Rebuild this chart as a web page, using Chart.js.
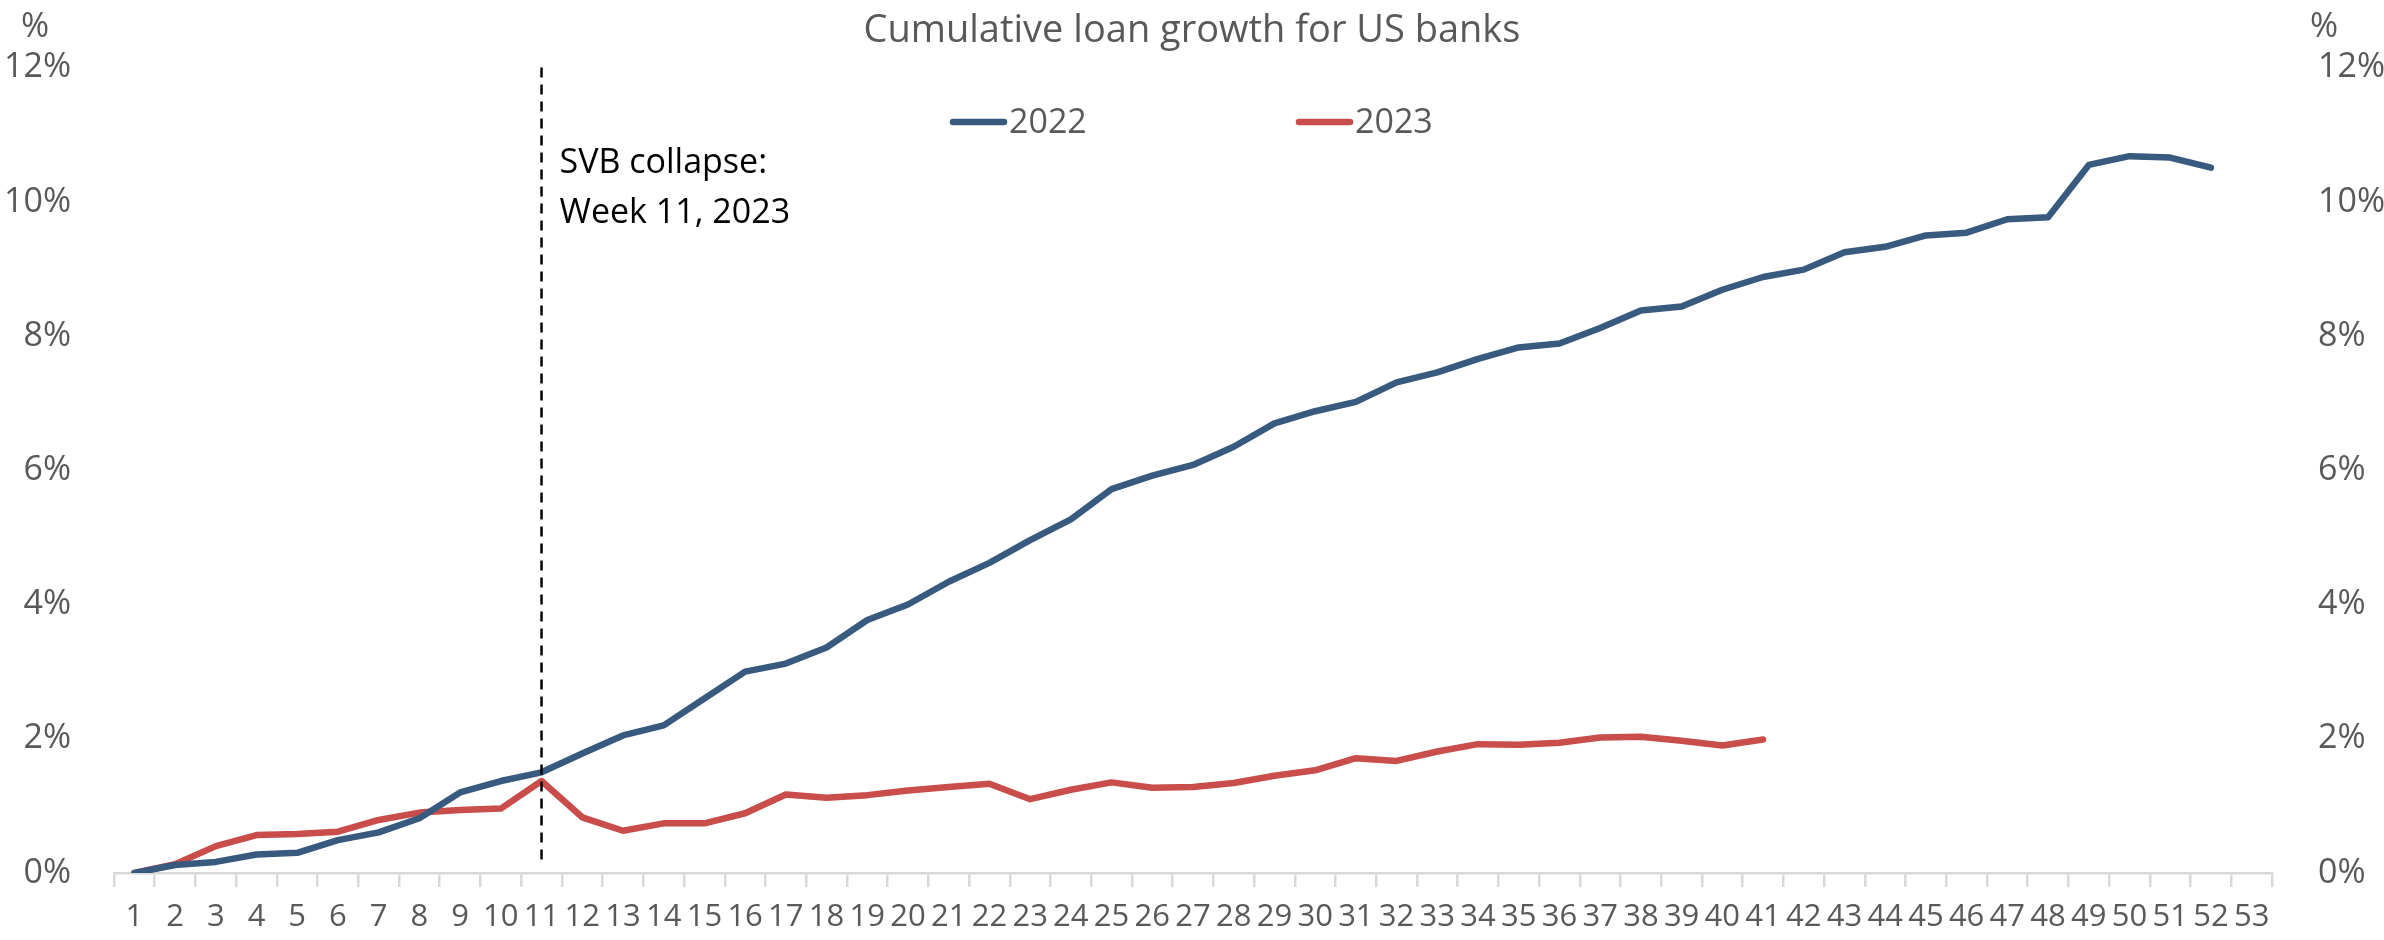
<!DOCTYPE html>
<html>
<head>
<meta charset="utf-8">
<script src="https://cdn.jsdelivr.net/npm/chart.js@4.4.0/dist/chart.umd.min.js"></script>
<style>
  html, body { margin: 0; padding: 0; background: #fff; }
  #wrap { width: 2384px; height: 940px; }
</style>
</head>
<body>
<div id="wrap"><canvas id="loanChart"></canvas></div>
<script>
const weeks = ["1","2","3","4","5","6","7","8","9","10","11","12","13","14","15","16","17","18",
    "19","20","21","22","23","24","25","26","27","28","29","30","31","32","33","34","35","36",
    "37","38","39","40","41","42","43","44","45","46","47","48","49","50","51","52","53"];

const growth2022 = [0.0, 0.12, 0.165, 0.275, 0.30, 0.49, 0.605, 0.815, 1.2, 1.37,
    1.5, 1.78, 2.05, 2.2, 2.6, 3.0, 3.12, 3.36, 3.77, 4.0,
    4.34, 4.62, 4.96, 5.27, 5.72, 5.92, 6.08, 6.35, 6.7, 6.88,
    7.02, 7.31, 7.46, 7.66, 7.83, 7.89, 8.12, 8.38, 8.44, 8.69,
    8.88, 8.99, 9.25, 9.33, 9.5, 9.54, 9.74, 9.77, 10.55, 10.68,
    10.66, 10.51];

const growth2023 = [0.0, 0.13, 0.4, 0.565, 0.58, 0.615, 0.79, 0.9, 0.94, 0.96,
    1.37, 0.83, 0.63, 0.74, 0.74, 0.89, 1.17, 1.12, 1.16, 1.23,
    1.28, 1.33, 1.1, 1.24, 1.35, 1.27, 1.28, 1.34, 1.45, 1.53,
    1.71, 1.67, 1.81, 1.92, 1.91, 1.94, 2.02, 2.03, 1.97, 1.90,
    1.99];

const yTicks = [0, 2, 4, 6, 8, 10, 12];
const svbWeek = "11";

const FONT = "'Open Sans', 'Noto Sans', sans-serif";
const GREY = "#595959";

// extra drawing: unit labels, SVB marker, legend inside the plot
const extras = {
    id: "extras",
    afterDatasetsDraw(chart) {
        const ctx = chart.ctx;
        const area = chart.chartArea;
        const x = chart.scales.x;

        ctx.save();
        ctx.font = "34px " + FONT;
        ctx.fillStyle = GREY;
        ctx.textBaseline = "middle";
        ctx.textAlign = "left";
        ctx.fillText("%", 21, 27);
        ctx.fillText("%", 2310, 27);

        // dashed marker
        const sx = x.getPixelForValue(weeks.indexOf(svbWeek));
        ctx.strokeStyle = "#000";
        ctx.lineWidth = 2.5;
        ctx.setLineDash([10, 7]);
        ctx.beginPath();
        ctx.moveTo(sx, area.top);
        ctx.lineTo(sx, area.bottom - 8);
        ctx.stroke();
        ctx.setLineDash([]);

        ctx.fillStyle = "#000";
        ctx.fillText("SVB collapse:", sx + 18, 163);
        ctx.fillText("Week 11, 2023", sx + 18, 213);

        // legend
        let lx = 950;
        chart.data.datasets.forEach(function (ds) {
            ctx.strokeStyle = ds.borderColor;
            ctx.lineWidth = 6.5;
            ctx.lineCap = "round";
            ctx.beginPath();
            ctx.moveTo(lx + 3, 122);
            ctx.lineTo(lx + 54, 122);
            ctx.stroke();
            ctx.fillStyle = GREY;
            ctx.fillText(ds.label, lx + 59, 123);
            lx += 346;
        });
        ctx.restore();
    }
};

const tickStyle = {
    color: GREY,
    font: { family: FONT, size: 34 },
};

new Chart(document.getElementById("loanChart"), {
    type: "line",
    data: {
        labels: weeks,
        datasets: [
            {
                label: "2022",
                data: growth2022,
                borderColor: "#395A7F",
                borderWidth: 6.5,
                borderJoinStyle: "round",
                borderCapStyle: "round",
                pointRadius: 0,
                tension: 0,
                yAxisID: "y",
            },
            {
                label: "2023",
                data: growth2023,
                borderColor: "#C84D4B",
                borderWidth: 6.5,
                borderJoinStyle: "round",
                borderCapStyle: "round",
                pointRadius: 0,
                tension: 0,
                yAxisID: "y",
            },
        ],
    },
    options: {
        responsive: true,
        maintainAspectRatio: false,
        animation: false,
        layout: { padding: { left: 0, right: 0, top: 0, bottom: 0 } },
        plugins: {
            legend: { display: false },
            tooltip: { enabled: false },
            title: {
                display: true,
                text: "Cumulative loan growth for US banks",
                color: GREY,
                font: { family: FONT, size: 38, weight: "normal" },
                padding: { top: 8, bottom: 14 },
            },
        },
        scales: {
            x: {
                offset: true,
                grid: {
                    offset: true,
                    drawOnChartArea: false,
                    drawTicks: true,
                    tickLength: 14,
                    color: "#D9D9D9",
                    lineWidth: 2.5,
                },
                border: { display: true, color: "#D9D9D9", width: 2.5 },
                ticks: {
                    autoSkip: false,
                    maxRotation: 0,
                    padding: 12,
                    color: GREY,
                    font: { family: FONT, size: 31 },
                },
                afterFit(scale) { scale.height = 67; },
            },
            y: {
                position: "left",
                min: 0,
                max: 12,
                afterBuildTicks(scale) { scale.ticks = yTicks.map(v => ({ value: v })); },
                grid: { display: false },
                border: { display: false },
                ticks: Object.assign({ padding: 35, callback: v => v + "%" }, tickStyle),
                afterFit(scale) { scale.width = 114; },
            },
            y2: {
                position: "right",
                min: 0,
                max: 12,
                afterBuildTicks(scale) { scale.ticks = yTicks.map(v => ({ value: v })); },
                grid: { display: false },
                border: { display: false },
                ticks: Object.assign({ padding: 38, callback: v => v + "%" }, tickStyle),
                afterFit(scale) { scale.width = 112; },
            },
        },
    },
    plugins: [extras],
});
</script>
</body>
</html>
